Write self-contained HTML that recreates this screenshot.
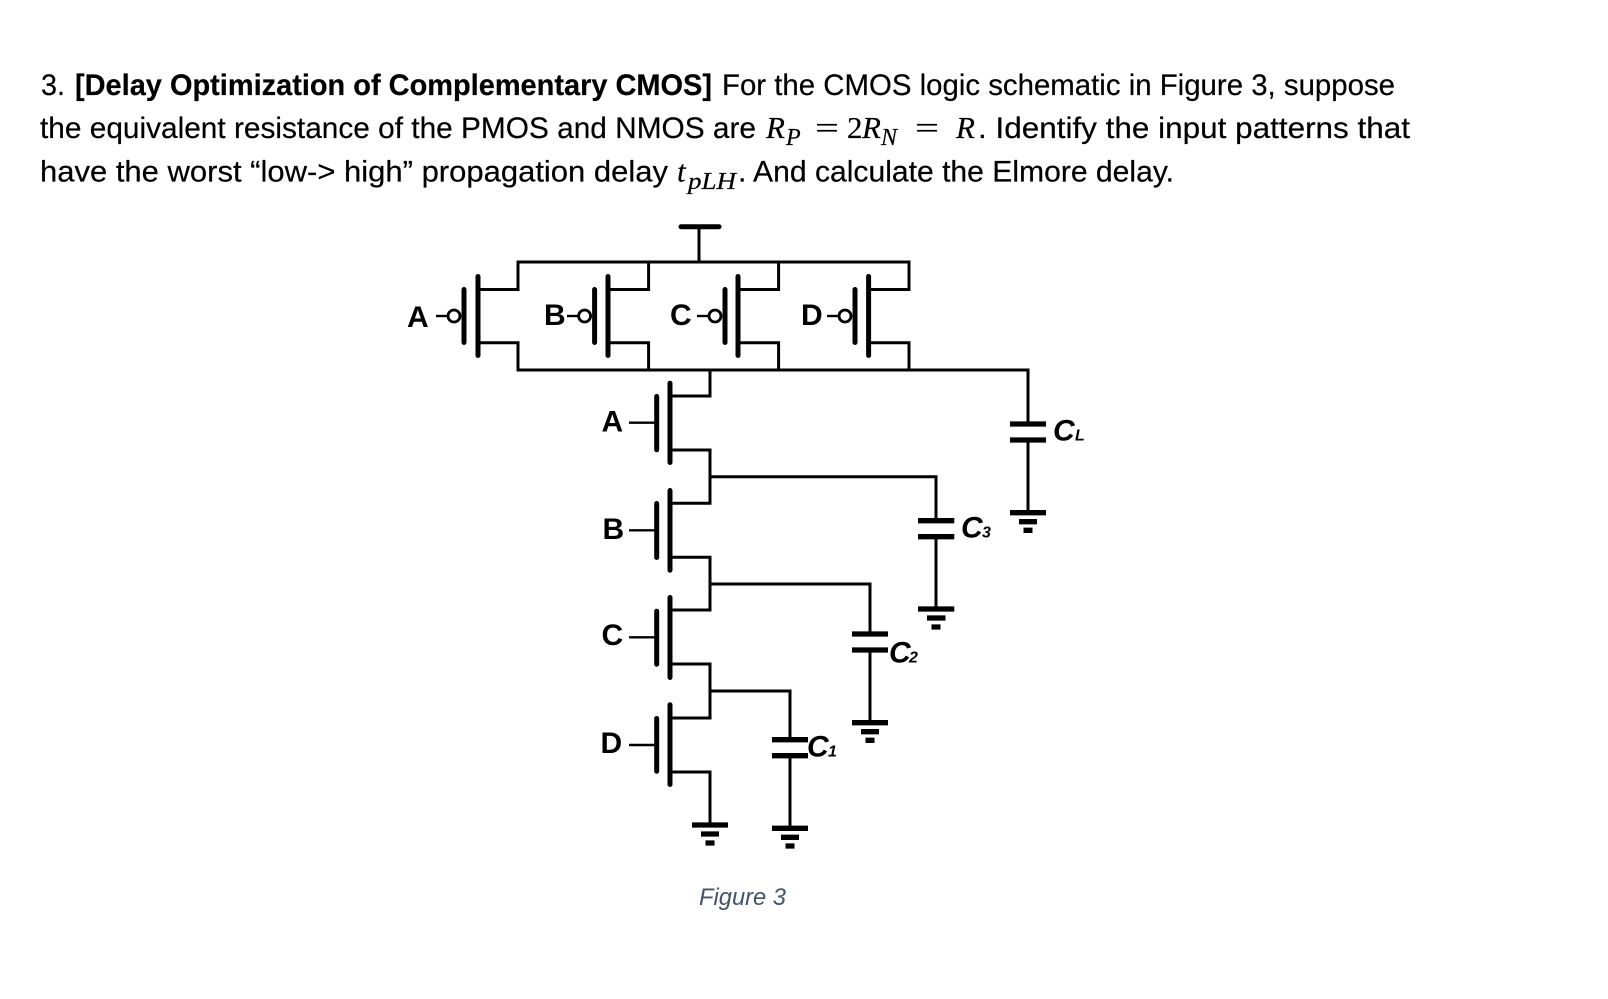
<!DOCTYPE html>
<html>
<head>
<meta charset="utf-8">
<style>
html,body{margin:0;padding:0;background:#fff;}
svg{display:block;}
.t{font-family:"Liberation Sans",sans-serif;font-size:30px;fill:#000;stroke:#000;stroke-width:.2;}
.b{font-weight:bold;}
.m{font-family:"Liberation Serif",serif;font-style:italic;font-size:31px;fill:#000;stroke:#000;stroke-width:.2;}
.mn{font-family:"Liberation Serif",serif;font-size:31px;fill:#000;stroke:#000;stroke-width:.2;}
.s{font-family:"Liberation Serif",serif;font-style:italic;font-size:24px;fill:#000;stroke:#000;stroke-width:.2;}
.l{font-family:"Liberation Sans",sans-serif;font-weight:bold;font-size:30px;fill:#000;}
.c{font-family:"Liberation Sans",sans-serif;font-weight:bold;font-style:italic;font-size:30px;fill:#000;}
.cs{font-family:"Liberation Sans",sans-serif;font-weight:bold;font-style:italic;font-size:16px;fill:#000;}
.f{font-family:"Liberation Sans",sans-serif;font-style:italic;font-size:24px;fill:#44546a;}
.w{fill:none;stroke:#000;stroke-width:3;stroke-linejoin:miter;}
.thin{fill:none;stroke:#000;stroke-width:2.4;}
.bar{fill:none;stroke:#000;stroke-width:5;stroke-linecap:round;}
.p{fill:none;stroke:#000;stroke-width:5.3;}
</style>
</head>
<body>
<svg width="1608" height="999" viewBox="0 0 1608 999" xmlns="http://www.w3.org/2000/svg">
<rect width="1608" height="999" fill="#fff"/>

<!-- Paragraph -->
<text class="t" x="41" y="95" textLength="24" lengthAdjust="spacingAndGlyphs">3.</text>
<text class="t b" x="75" y="95" textLength="637" lengthAdjust="spacingAndGlyphs">[Delay Optimization of Complementary CMOS]</text>
<text class="t" x="722" y="95" textLength="673" lengthAdjust="spacingAndGlyphs">For the CMOS logic schematic in Figure 3, suppose</text>

<text class="t" x="40" y="138" textLength="716" lengthAdjust="spacingAndGlyphs">the equivalent resistance of the PMOS and NMOS are</text>
<text class="m" x="766" y="138">R</text>
<text class="s" x="786" y="145">P</text>
<text class="mn" x="815" y="138" textLength="24" lengthAdjust="spacingAndGlyphs">=</text>
<text class="mn" x="847" y="138">2</text>
<text class="m" x="862" y="138">R</text>
<text class="s" x="881" y="145">N</text>
<text class="mn" x="915" y="138" textLength="24" lengthAdjust="spacingAndGlyphs">=</text>
<text class="m" x="956" y="138">R</text>
<text class="t" x="978" y="138" textLength="432" lengthAdjust="spacingAndGlyphs">. Identify the input patterns that</text>

<text class="t" x="40" y="181.5" textLength="628" lengthAdjust="spacingAndGlyphs">have the worst “low-&gt; high” propagation delay</text>
<text class="m" x="677" y="181.5">t</text>
<text class="s" x="688" y="189" textLength="48" lengthAdjust="spacingAndGlyphs">pLH</text>
<text class="t" x="738" y="181.5" textLength="436" lengthAdjust="spacingAndGlyphs">. And calculate the Elmore delay.</text>

<!-- VDD -->
<path class="bar" d="M681,226.7H719"/>
<path class="w" d="M699,226.7V262"/>

<!-- PMOS rails -->
<path class="w" d="M478,289.5H518V262H909V289.5H868.6"/>
<path class="w" d="M608,289.5H648.6V262"/>
<path class="w" d="M738,289.5H778.6V262"/>
<path class="w" d="M478,342.7H518V370H1028V424"/>
<path class="w" d="M608,342.7H648.6V370"/>
<path class="w" d="M738,342.7H778.6V370"/>
<path class="w" d="M868.6,342.7H909V370"/>

<!-- PMOS A -->
<path class="bar" d="M464,289.5V342.5M478,276.5V355.5"/>
<circle cx="454" cy="316" r="6" fill="#fff" stroke="#000" stroke-width="2.8"/>
<path class="thin" d="M436,316H448"/>
<!-- PMOS B -->
<path class="bar" d="M594.6,289.5V342.5M608,276.5V355.5"/>
<circle cx="584.6" cy="316" r="6" fill="#fff" stroke="#000" stroke-width="2.8"/>
<path class="thin" d="M567,316H578.6"/>
<!-- PMOS C -->
<path class="bar" d="M725,289.5V342.5M738,276.5V355.5"/>
<circle cx="715" cy="316" r="6" fill="#fff" stroke="#000" stroke-width="2.8"/>
<path class="thin" d="M697,316H709"/>
<!-- PMOS D -->
<path class="bar" d="M855,289.5V342.5M868.6,276.5V355.5"/>
<circle cx="845" cy="316" r="6" fill="#fff" stroke="#000" stroke-width="2.8"/>
<path class="thin" d="M827,316H839"/>

<text class="l" x="407" y="327">A</text>
<text class="l" x="544" y="325">B</text>
<text class="l" x="670" y="325">C</text>
<text class="l" x="801" y="325">D</text>

<!-- NMOS stack -->
<path class="w" d="M710,370V396H670"/>
<path class="w" d="M670,450H710V503.3H670"/>
<path class="w" d="M670,557.3H710V610H670"/>
<path class="w" d="M670,664H710V718H670"/>
<path class="w" d="M670,772H710V825"/>

<path class="bar" d="M656.7,396.5V449.8M670,383.2V462.5"/>
<path class="bar" d="M656.7,503.5V557.5M670,490.5V570.2"/>
<path class="bar" d="M656.7,611.2V664.2M670,597.5V677.5"/>
<path class="bar" d="M656.7,718.5V771.2M670,704.8V784.5"/>
<path class="thin" d="M629,422.7H655M629,530.3H655M629,637.3H655M629,745H655"/>

<text class="l" x="601.5" y="431.7">A</text>
<text class="l" x="602.5" y="539">B</text>
<text class="l" x="601.5" y="645">C</text>
<text class="l" x="600.5" y="753">D</text>

<!-- Node wires -->
<path class="w" d="M710,476.7H936V520.7"/>
<path class="w" d="M710,584H870V634"/>
<path class="w" d="M710,691H790V739.7"/>

<!-- C3 -->
<path class="p" d="M918,520.7H954.3M918,536.7H954.3"/>
<path class="w" d="M936,536.7V609"/>
<path class="p" d="M918,609H954.3M927,618H945.5M931.5,627H940.5"/>
<!-- C2 -->
<path class="p" d="M852,634H888M852,650H888"/>
<path class="w" d="M870,650V722.7"/>
<path class="p" d="M852,722.7H888M861,731.7H879M865.5,740.3H874.5"/>
<!-- C1 -->
<path class="p" d="M772,739.7H808M772,755.7H808"/>
<path class="w" d="M790,755.7V828.3"/>
<path class="p" d="M772,828.3H808M781,837.3H799M785.5,846H794.5"/>
<!-- CL -->
<path class="p" d="M1010,424H1046M1010,440H1046"/>
<path class="w" d="M1028,440V512.7"/>
<path class="p" d="M1010,512.7H1046M1019,521.7H1037M1023.5,530.3H1032.5"/>
<!-- Ground under D -->
<path class="p" d="M692,825H728M701,834H719M705.5,843H714.5"/>

<!-- Cap labels -->
<text class="c" x="1053" y="440.7">C</text><text class="cs" x="1075" y="440.7">L</text>
<text class="c" x="961" y="537.7">C</text><text class="cs" x="982" y="537.7">3</text>
<text class="c" x="889" y="662.7">C</text><text class="cs" x="909" y="662.7">2</text>
<text class="c" x="807" y="756.7">C</text><text class="cs" x="828" y="756.7">1</text>

<text class="f" x="699" y="905" textLength="87" lengthAdjust="spacingAndGlyphs">Figure 3</text>
</svg>
</body>
</html>
